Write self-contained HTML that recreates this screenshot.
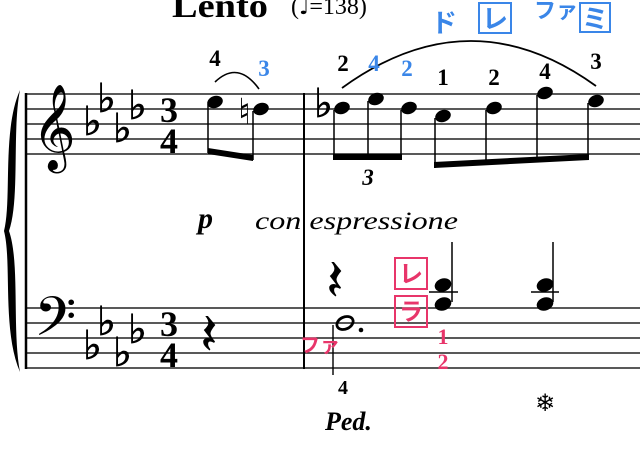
<!DOCTYPE html>
<html><head><meta charset="utf-8"><style>
html,body{margin:0;padding:0;background:#fff;}
svg{display:block;}
.f{font-family:"Liberation Serif",serif;font-weight:bold;}
.k{font-family:"Liberation Sans","Noto Sans CJK JP",sans-serif;font-weight:bold;}
.m{font-family:"DejaVu Sans",serif;}
</style></head><body>
<svg width="640" height="461" viewBox="0 0 640 461" xmlns="http://www.w3.org/2000/svg">
<g stroke="#222" stroke-width="1.6">
<line x1="26" y1="94" x2="640" y2="94"/><line x1="26" y1="109" x2="640" y2="109"/><line x1="26" y1="124" x2="640" y2="124"/><line x1="26" y1="139" x2="640" y2="139"/><line x1="26" y1="154" x2="640" y2="154"/>
<line x1="26" y1="308" x2="640" y2="308"/><line x1="26" y1="323" x2="640" y2="323"/><line x1="26" y1="338" x2="640" y2="338"/><line x1="26" y1="353" x2="640" y2="353"/><line x1="26" y1="368" x2="640" y2="368"/>
</g>
<line x1="26" y1="93" x2="26" y2="369" stroke="#000" stroke-width="2.5"/>
<line x1="304" y1="93" x2="304" y2="369" stroke="#000" stroke-width="2"/>
<path d="M20 90 C2 130 12 200 4 231 C12 262 2 330 20 372 C12 330 20 262 9 231 C20 200 12 130 20 90Z" fill="#000"/>
<!-- clefs -->
<text x="32" y="152" class="m" font-size="74">𝄞</text>
<text x="34" y="346" class="m" font-size="66">𝄢</text>
<!-- key sigs -->
<g class="m" font-size="40" stroke="#000" stroke-width="0.8">
<text x="83" y="135">♭</text><text x="97" y="112">♭</text><text x="113" y="142">♭</text><text x="128" y="119">♭</text>
<text x="83" y="359">♭</text><text x="97" y="335">♭</text><text x="113" y="366">♭</text><text x="128" y="343">♭</text>
<text x="314" y="117">♭</text>
</g>
<!-- time sigs -->
<g class="f" font-size="36" text-anchor="middle">
<text x="169" y="122">3</text><text x="169" y="153">4</text>
<text x="169" y="336">3</text><text x="169" y="367">4</text>
</g>
<!-- measure1 notes -->
<g fill="#000">
<ellipse cx="215" cy="102" rx="8" ry="6" transform="rotate(-20 215 102)"/>
<ellipse cx="261" cy="109" rx="8" ry="6" transform="rotate(-20 261 109)"/>
</g>
<line x1="208" y1="104" x2="208" y2="153" stroke="#000" stroke-width="1.5"/>
<line x1="253" y1="111" x2="253" y2="160" stroke="#000" stroke-width="1.5"/>
<path d="M208 148 L253 155 L253 161 L208 154Z" fill="#000"/>
<text x="238" y="124" class="m" font-size="36">♮</text>
<text x="215" y="66" class="f" font-size="23" text-anchor="middle">4</text>
<text x="264" y="76" class="f" font-size="23" fill="#3a86e8" text-anchor="middle">3</text>
<path d="M215 82 Q238 60 259 89" stroke="#000" stroke-width="1.6" fill="none"/>
<!-- measure2 treble -->
<g fill="#000">
<ellipse cx="342" cy="108" rx="8" ry="6" transform="rotate(-20 342 108)"/>
<ellipse cx="376" cy="99" rx="8" ry="6" transform="rotate(-20 376 99)"/>
<ellipse cx="409" cy="108" rx="8" ry="6" transform="rotate(-20 409 108)"/>
<ellipse cx="443" cy="116" rx="8" ry="6" transform="rotate(-20 443 116)"/>
<ellipse cx="494" cy="108" rx="8" ry="6" transform="rotate(-20 494 108)"/>
<ellipse cx="545" cy="93" rx="8" ry="6" transform="rotate(-20 545 93)"/>
<ellipse cx="596" cy="101" rx="8" ry="6" transform="rotate(-20 596 101)"/>
</g>
<g stroke="#000" stroke-width="1.5">
<line x1="334" y1="110" x2="334" y2="160"/><line x1="368" y1="101" x2="368" y2="160"/><line x1="401" y1="110" x2="401" y2="160"/>
<line x1="435" y1="118" x2="435" y2="168"/><line x1="486" y1="110" x2="486" y2="164"/><line x1="537" y1="95" x2="537" y2="161"/><line x1="588" y1="103" x2="588" y2="158"/>
</g>
<rect x="333" y="154" width="69" height="6" fill="#000"/>
<path d="M434 162 L589 154 L589 160 L434 168Z" fill="#000"/>
<text x="368" y="185" font-family="Liberation Serif,serif" font-style="italic" font-weight="bold" font-size="23" text-anchor="middle">3</text>
<path d="M342 88 Q470 -5 596 86" stroke="#000" stroke-width="1.8" fill="none"/>
<g class="f" font-size="23" text-anchor="middle">
<text x="343" y="71">2</text><text x="374" y="71" fill="#3a86e8">4</text><text x="407" y="76" fill="#3a86e8">2</text>
<text x="443" y="85">1</text><text x="494" y="85">2</text><text x="545" y="79">4</text><text x="596" y="69">3</text>
</g>
<!-- blue kana -->
<g class="k" fill="#3a86e8" font-size="26">
<text x="431" y="32">ド</text>
<rect x="479" y="3" width="32" height="30" fill="none" stroke="#3a86e8" stroke-width="2"/>
<text x="482" y="28">レ</text>
<text x="534" y="18" font-size="22">ファ</text>
<rect x="580" y="3" width="30" height="29" fill="none" stroke="#3a86e8" stroke-width="2"/>
<text x="582" y="28">ミ</text>
</g>
<!-- title -->
<text x="172" y="17" font-family="Liberation Serif,serif" font-weight="bold" font-size="34" textLength="96" lengthAdjust="spacingAndGlyphs">Lento</text>
<text x="291" y="14" font-family="Liberation Serif,serif" font-size="24">(<tspan class="m" font-size="22">♩</tspan>=138)</text>
<!-- expression -->
<text x="198" y="228" font-family="Liberation Serif,serif" font-weight="bold" font-style="italic" font-size="30">p</text>
<text x="255" y="229" font-family="Liberation Serif,serif" font-style="italic" font-size="25" textLength="203" lengthAdjust="spacingAndGlyphs">con espressione</text>
<!-- bass measure 1 rest -->
<text x="200" y="354" class="m" font-size="58">𝄽</text>
<!-- bass measure 2 -->
<text x="326" y="300" class="m" font-size="58">𝄽</text>
<ellipse cx="345" cy="323" rx="8.5" ry="6" transform="rotate(-25 345 323)" fill="none" stroke="#000" stroke-width="2.8"/>
<circle cx="361" cy="330" r="2.3" fill="#000"/>
<line x1="333" y1="325" x2="333" y2="375" stroke="#000" stroke-width="1.4"/>
<text x="343" y="394" class="f" font-size="20" text-anchor="middle">4</text>
<text x="325" y="430" font-family="Liberation Serif,serif" font-style="italic" font-weight="bold" font-size="26">Ped.</text>
<text x="545" y="411" class="m" font-size="24" text-anchor="middle">❄</text>
<g fill="#000">
<ellipse cx="443" cy="285" rx="8.5" ry="6.5" transform="rotate(-20 443 285)"/>
<ellipse cx="443" cy="304" rx="8.5" ry="6.5" transform="rotate(-20 443 304)"/>
<ellipse cx="545" cy="285" rx="8.5" ry="6.5" transform="rotate(-20 545 285)"/>
<ellipse cx="545" cy="304" rx="8.5" ry="6.5" transform="rotate(-20 545 304)"/>
</g>
<g stroke="#000" stroke-width="1.5">
<line x1="429" y1="292" x2="458" y2="292"/><line x1="531" y1="292" x2="559" y2="292"/>
<line x1="452" y1="302" x2="452" y2="242"/><line x1="553" y1="302" x2="553" y2="242"/>
</g>
<!-- pink -->
<g class="k" fill="#e8356a" font-size="24">
<rect x="395" y="258" width="32" height="31" fill="none" stroke="#e8356a" stroke-width="2"/>
<text x="399" y="282">レ</text>
<rect x="395" y="296" width="32" height="31" fill="none" stroke="#e8356a" stroke-width="2"/>
<text x="399" y="320">ラ</text>
<text x="300" y="352" font-size="20">ファ</text>
</g>
<g class="f" fill="#e8356a" font-size="22" text-anchor="middle">
<text x="443" y="344">1</text><text x="443" y="369">2</text>
</g>
</svg>
</body></html>
